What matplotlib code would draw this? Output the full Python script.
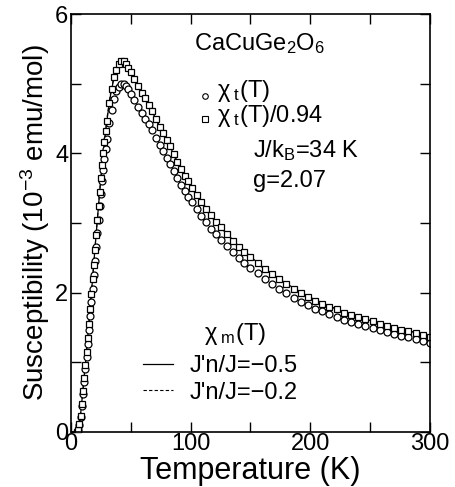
import numpy as np
import matplotlib
matplotlib.use("Agg")
import matplotlib.pyplot as plt

plt.rcParams['font.family'] = ['Liberation Sans', 'DejaVu Sans']
plt.rcParams['mathtext.fontset'] = 'custom'
plt.rcParams['mathtext.rm'] = 'Liberation Sans'
plt.rcParams['mathtext.it'] = 'Liberation Sans'

# measured chi_t(T), circles
T_t = [5, 6, 7, 8, 9, 10, 11, 12, 13, 14, 15, 16, 17, 18, 19, 20, 21, 22, 23, 24,
       25, 26, 27, 28, 29, 30, 32, 34, 36, 38, 40, 42, 44, 46, 48, 50, 53, 56, 59, 62,
       65, 68, 71, 74, 77, 80, 83, 86, 89, 92, 95, 98, 101, 105, 109, 113, 117, 121, 125, 130,
       135, 140, 145, 150, 156, 162, 168, 174, 180, 186, 192, 198, 204, 210, 216, 222, 228, 234, 240, 246,
       252, 258, 264, 270, 276, 282, 288, 294, 300]
chi_t = [0.00, 0.03, 0.10, 0.22, 0.38, 0.55, 0.72, 0.90, 1.08, 1.27, 1.46, 1.66, 1.86, 2.06, 2.26, 2.46, 2.66, 2.86, 3.05, 3.24,
         3.42, 3.60, 3.76, 3.92, 4.06, 4.20, 4.44, 4.63, 4.78, 4.89, 4.96, 5.00, 5.00, 4.97, 4.92, 4.86, 4.77, 4.67, 4.58, 4.50,
         4.42, 4.33, 4.22, 4.12, 4.03, 3.94, 3.85, 3.75, 3.65, 3.55, 3.46, 3.38, 3.30, 3.20, 3.10, 3.01, 2.92, 2.84, 2.76, 2.67,
         2.58, 2.50, 2.43, 2.36, 2.28, 2.20, 2.13, 2.06, 1.99, 1.93, 1.87, 1.82, 1.77, 1.73, 1.69, 1.65, 1.61, 1.58, 1.55, 1.52,
         1.49, 1.46, 1.43, 1.41, 1.38, 1.36, 1.33, 1.31, 1.28]

# chi_t(T)/0.94, squares
T_s = T_t
chi_s = [0.00, 0.03, 0.11, 0.23, 0.40, 0.59, 0.77, 0.96, 1.15, 1.35, 1.55, 1.77, 1.98, 2.19, 2.40, 2.62, 2.83, 3.04, 3.24, 3.45,
         3.64, 3.83, 4.00, 4.17, 4.32, 4.47, 4.72, 4.93, 5.09, 5.20, 5.28, 5.32, 5.32, 5.29, 5.23, 5.17, 5.07, 4.97, 4.87, 4.79,
         4.70, 4.61, 4.49, 4.38, 4.29, 4.19, 4.10, 3.99, 3.88, 3.78, 3.68, 3.60, 3.51, 3.40, 3.30, 3.20, 3.11, 3.02, 2.94, 2.84,
         2.74, 2.66, 2.59, 2.51, 2.43, 2.34, 2.27, 2.19, 2.12, 2.05, 1.99, 1.94, 1.88, 1.84, 1.80, 1.76, 1.71, 1.68, 1.65, 1.62,
         1.59, 1.55, 1.52, 1.50, 1.47, 1.45, 1.42, 1.39, 1.36]

# model chi_m(T)
T_m = [0, 4, 6, 8, 10, 12, 14, 16, 18, 20, 22, 24, 26, 28, 30, 33, 36, 39, 42, 45,
       48, 52, 56, 60, 65, 70, 80, 90, 100, 120, 140, 160, 180, 200, 225, 250, 275, 300]
chi_m05 = [0.0, 0.0, 0.05, 0.25, 0.60, 0.97, 1.36, 1.77, 2.19, 2.62, 3.04, 3.45, 3.83, 4.17, 4.47, 4.83, 5.09, 5.25, 5.32, 5.31,
           5.24, 5.11, 4.97, 4.84, 4.69, 4.53, 4.19, 3.85, 3.54, 3.04, 2.67, 2.37, 2.13, 1.93, 1.74, 1.60, 1.48, 1.38]
chi_m02 = [0.0, 0.0, 0.05, 0.25, 0.61, 0.98, 1.37, 1.78, 2.20, 2.63, 3.05, 3.46, 3.85, 4.19, 4.50, 4.86, 5.11, 5.28, 5.35, 5.34,
           5.27, 5.13, 4.98, 4.84, 4.68, 4.52, 4.17, 3.83, 3.52, 3.03, 2.66, 2.36, 2.12, 1.93, 1.74, 1.60, 1.48, 1.38]

fig = plt.figure(figsize=(4.55, 4.87), dpi=100)
ax = fig.add_axes([0.156, 0.113, 0.789, 0.858])

ax.plot(T_m, chi_m05, '-', color='k', lw=0.9)
ax.plot(T_m, chi_m02, '--', color='k', lw=0.8, dashes=(3, 2))
ax.plot(T_t, chi_t, 'o', ms=5, mfc='white', mec='k', mew=0.9)
ax.plot(T_s, chi_s, 's', ms=5, mfc='white', mec='k', mew=0.9)

ax.set_xlim(0, 300)
ax.set_ylim(0, 6)
ax.set_xticks([0, 100, 200, 300])
ax.set_xticks([50, 150, 250], minor=True)
ax.set_yticks([0, 2, 4, 6])
ax.set_yticks([1, 3, 5], minor=True)
ax.tick_params(which='both', direction='in', top=True, right=True, labelsize=17, width=1)
ax.tick_params(which='major', length=7, pad=2)
ax.tick_params(axis='x', which='major', pad=0.5)
ax.tick_params(which='minor', length=7)
for s in ax.spines.values():
    s.set_linewidth(1.2)

ax.set_xlabel('Temperature (K)', fontsize=22, labelpad=1)
ax.set_ylabel('Susceptibility (10$^{-3}$ emu/mol)', fontsize=20, labelpad=2)

fs = 17
ax.text(103, 5.58, 'CaCuGe$_2$O$_6$', fontsize=fs, va='center')
ax.plot([112], [4.83], 'o', ms=4, mfc='white', mec='k', mew=0.8)
ax.text(122, 4.90, r'$\chi_{\rm\ t}$(T)', fontsize=fs, va='center')
ax.plot([112], [4.49], 's', ms=4, mfc='white', mec='k', mew=0.8)
ax.text(122, 4.53, r'$\chi_{\rm\ t}$(T)/0.94', fontsize=fs, va='center')
ax.text(152, 4.04, 'J/k$_{\\rm B}$=34 K', fontsize=fs, va='center')
ax.text(152, 3.61, 'g=2.07', fontsize=fs, va='center')
ax.text(111, 1.40, r'$\chi_{\rm\ m}$(T)', fontsize=fs, va='center')
ax.plot([60, 85], [0.98, 0.98], '-', color='k', lw=0.9)
ax.text(99, 0.95, "J'n/J=\u22120.5", fontsize=fs, va='center')
ax.plot([60, 85], [0.60, 0.60], '--', color='k', lw=0.8, dashes=(3, 2))
ax.text(99, 0.56, "J'n/J=\u22120.2", fontsize=fs, va='center')

fig.savefig('out.png', dpi=100)
